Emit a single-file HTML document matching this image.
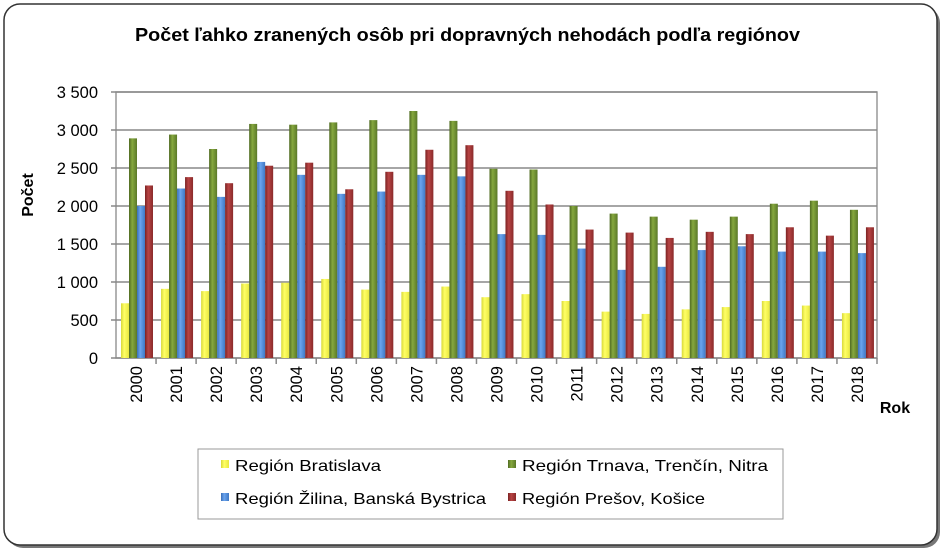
<!DOCTYPE html>
<html><head><meta charset="utf-8"><style>
body{margin:0;background:#fff;font-family:"Liberation Sans",sans-serif}
</style></head><body>
<svg width="944" height="553" xmlns="http://www.w3.org/2000/svg" font-family="Liberation Sans, sans-serif">
<defs>
<linearGradient id="gy" x1="0" x2="1"><stop offset="0" stop-color="#d8d83a"/><stop offset=".4" stop-color="#ffff66"/><stop offset="1" stop-color="#e8e840"/></linearGradient>
<linearGradient id="gg" x1="0" x2="1"><stop offset="0" stop-color="#4f6a22"/><stop offset=".4" stop-color="#86a83e"/><stop offset="1" stop-color="#5a7828"/></linearGradient>
<linearGradient id="gb" x1="0" x2="1"><stop offset="0" stop-color="#3a6fb8"/><stop offset=".4" stop-color="#6aa4ee"/><stop offset="1" stop-color="#3f78c4"/></linearGradient>
<linearGradient id="gr" x1="0" x2="1"><stop offset="0" stop-color="#7a2222"/><stop offset=".4" stop-color="#b84444"/><stop offset="1" stop-color="#8a2a2a"/></linearGradient>
</defs>
<rect x="7" y="7" width="933" height="541" rx="16" fill="#777"/>
<rect x="4" y="4" width="933" height="541" rx="16" fill="#fff" stroke="#333" stroke-width="1.5"/>
<text x="135" y="41" font-size="18" font-weight="bold" textLength="665" lengthAdjust="spacingAndGlyphs">Počet ľahko zranených osôb pri dopravných nehodách podľa regiónov</text>
<text transform="translate(33,195) rotate(-90)" text-anchor="middle" font-size="16" font-weight="bold">Počet</text>
<text x="895" y="413" text-anchor="middle" font-size="16" font-weight="bold">Rok</text>
<rect x="116" y="92" width="761" height="266" fill="none" stroke="#999" stroke-width="1.5"/>
<g id="grid"></g><g id="bars"></g><g id="xl"></g>
<rect x="198" y="449" width="585" height="70" fill="#fff" stroke="#999"/>
<g><rect x="221" y="460" width="8" height="8" fill="url(#gy)"/><text x="235" y="471" font-size="16" textLength="146" lengthAdjust="spacingAndGlyphs">Región Bratislava</text></g>
<g><rect x="508" y="460" width="8" height="8" fill="url(#gg)"/><text x="522" y="471" font-size="16" textLength="246" lengthAdjust="spacingAndGlyphs">Región Trnava, Trenčín, Nitra</text></g>
<g><rect x="221" y="493" width="8" height="8" fill="url(#gb)"/><text x="235" y="504" font-size="16" textLength="251" lengthAdjust="spacingAndGlyphs">Región Žilina, Banská Bystrica</text></g>
<g><rect x="508" y="493" width="8" height="8" fill="url(#gr)"/><text x="522" y="504" font-size="16" textLength="183" lengthAdjust="spacingAndGlyphs">Región Prešov, Košice</text></g>
</svg>
<script>
const years=["2000","2001","2002","2003","2004","2005","2006","2007","2008","2009","2010","2011","2012","2013","2014","2015","2016","2017","2018"];
const bratislava=[720,910,880,980,990,1040,900,870,940,800,840,750,610,580,640,670,750,690,590];
const trnava=[2890,2940,2750,3080,3070,3100,3130,3250,3120,2490,2480,2000,1900,1860,1820,1860,2030,2070,1950];
const zilina=[2000,2230,2120,2580,2410,2160,2190,2410,2390,1630,1620,1440,1160,1200,1420,1470,1400,1400,1380];
const presov=[2270,2380,2300,2530,2570,2220,2450,2740,2800,2200,2020,1690,1650,1580,1660,1630,1720,1610,1720];
const yTicks=[0,500,1000,1500,2000,2500,3000,3500];
const yTickLabels=["0","500","1 000","1 500","2 000","2 500","3 000","3 500"];
const NS="http://www.w3.org/2000/svg";
const x0=116,x1=877,y0=358,yTop=92,ymax=3500;
const cw=(x1-x0)/years.length;
const y=v=>y0-v/ymax*(y0-yTop);
function mk(t,a,p){const e=document.createElementNS(NS,t);for(const k in a)e.setAttribute(k,a[k]);p.appendChild(e);return e;}
const grid=document.getElementById('grid');
yTicks.forEach((v,i)=>{
 const l=mk('line',{x1:x0-5,x2:x1,y1:y(v),y2:y(v),stroke:'#888','stroke-width':1.5},grid);
 
 
 const t=mk('text',{x:98,y:y(v)+6,'text-anchor':'end','font-size':16.5},grid);
 t.textContent=yTickLabels[i];
 
 
});
const series=[[bratislava,'url(#gy)'],[trnava,'url(#gg)'],[zilina,'url(#gb)'],[presov,'url(#gr)']];
const bars=document.getElementById('bars'),xl=document.getElementById('xl');
years.forEach((yr,i)=>{
 const cx=x0+i*cw;
 const tk=mk('line',{x1:cx+cw,x2:cx+cw,y1:y0,y2:y0+6,stroke:'#888','stroke-width':1.5},xl);
 
 
 series.forEach((s,j)=>{
  const v=s[0][i];
  const r=mk('rect',{x:cx+5+j*8,y:y(v),width:8,height:y0-y(v),fill:s[1]},bars);
  
  
 });
 const t=mk('text',{transform:`translate(${cx+cw/2+6},${y0+8}) rotate(-90)`,'text-anchor':'end','font-size':16.5},xl);
 t.textContent=yr;
 
 
});
</script>
</body></html>
